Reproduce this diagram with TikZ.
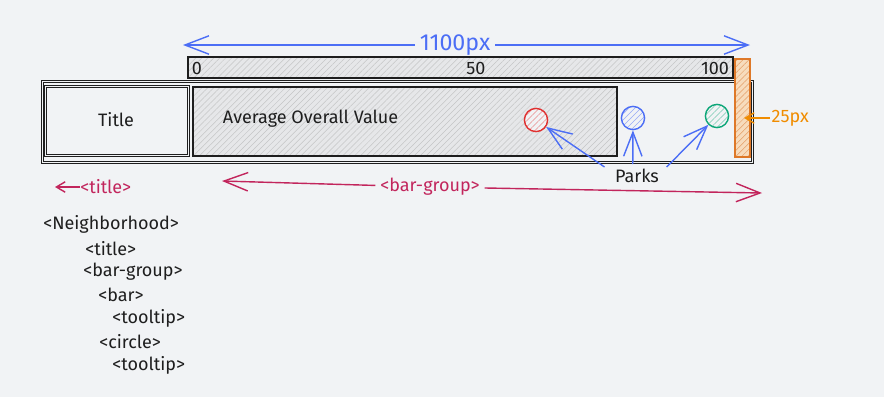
\documentclass[tikz,border=0pt]{standalone}
\usepackage{fontspec}
\setmainfont{Fira Sans}
\usepackage{tikz}
\usetikzlibrary{arrows.meta,patterns.meta,positioning}
\definecolor{paper}{RGB}{241,243,245}
\definecolor{ink}{RGB}{30,30,30}
\definecolor{widthblue}{RGB}{76,110,245}
\definecolor{pxorange}{RGB}{240,140,0}
\definecolor{orangeline}{RGB}{222,120,40}
\definecolor{orangefill}{RGB}{255,192,120}
\definecolor{parkred}{RGB}{224,49,49}
\definecolor{parkblue}{RGB}{76,110,245}
\definecolor{parkgreen}{RGB}{12,166,120}
\definecolor{groupred}{RGB}{194,37,92}

\begin{document}
\begin{tikzpicture}[x=0.025cm,y=-0.025cm,font=\fontsize{12.8}{14}\selectfont,
  barb/.style={-{Straight Barb[length=6mm,width=4.6mm]},line width=1pt},
  smallbarb/.style={-{Straight Barb[length=2.2mm,width=2.6mm]},line width=1pt},
  hatch/.style 2 args={preaction={fill=#1},pattern={Lines[angle=45,distance=3pt,line width=0.35pt]},pattern color=#2},
  sketch/.style={draw=ink,line width=0.8pt},
  thinline/.style={draw=ink,line width=0.5pt},
  park/.style={circle,draw=#1,line width=1pt,minimum size=0.58cm,inner sep=0pt,hatch={paper}{#1!55!paper}}]
\fill[paper] (0,0) rectangle (884,397);
\useasboundingbox (0,0) rectangle (884,397);
% --- the value scale and its width ---
\draw[sketch,hatch={gray!10!paper}{gray!40!paper}] (188,57) rectangle (733,78);
\foreach \v/\x in {0/197,50/476,100/715} \node[ink] (tick\v) at (\x,68) {\v};
\node[widthblue,font=\fontsize{16.5}{18}\selectfont] (widthlbl) at (455,45) {1100px};
\coordinate (wleft) at (183,45);
\coordinate (wright) at (750,45);
\draw[barb,widthblue] (widthlbl) -- (wleft);
\draw[barb,widthblue] (widthlbl) -- (wright);
% --- the neighborhood row ---
\draw[thinline] (41,80) rectangle (753,163);
\draw[thinline] (43,82) rectangle (751,161);
\draw[thinline] (44,85) rectangle (189,156);
\draw[thinline] (46,87) rectangle (187,154);
\node[ink] (titletxt) at (116,120) {Title};
\draw[sketch,hatch={gray!10!paper}{gray!40!paper}] (193,87) rectangle (617,156);
\node[ink,anchor=west] (bartxt) at (218,119) {Average Overall Value};
\draw[draw=orangeline,line width=0.8pt,hatch={orangefill!45!paper}{orangeline!70!paper}] (735,59) rectangle (750,157);
\coordinate (obar) at (744,118);
\node[pxorange,anchor=west,inner xsep=1pt] (pxlbl) at (770,118) {25px};
\draw[smallbarb,pxorange] (pxlbl) -- (obar);
% --- the parks ---
\node[park=parkred] (pred) at (536,120) {};
\node[park=parkblue] (pblue) at (633,118) {};
\node[park=parkgreen] (pgreen) at (717,116) {};
\node[ink] (parks) at (637,176) {Parks};
\draw[barb,parkblue] ([xshift=-4pt,yshift=-2pt]parks.north west) -- (pred);
\draw[barb,parkblue] ([xshift=-3pt]parks.north) -- (pblue);
\draw[barb,parkblue] ([xshift=2pt,yshift=-2pt]parks.north east) -- (pgreen);
% --- the component names ---
\node[groupred] (grouplbl) at (430,187) {<bar-group>};
\coordinate (gleft) at (222,181);
\coordinate (gright) at (762,193);
\draw[barb,groupred] (grouplbl) -- (gleft);
\draw[barb,groupred] (grouplbl) -- (gright);
\node[groupred,anchor=west,inner xsep=0pt] (titlelbl) at (80,187) {<title>};
\coordinate (tleft) at (55,187);
\draw[smallbarb,groupred] (titlelbl) -- (tleft);
% --- the element tree ---
\foreach \t/\x/\y [count=\i] in {<Neighborhood>/43/224,<title>/85/249,<bar-group>/83/272,
                                 <bar>/98/295,<tooltip>/112/318,<circle>/99/342,<tooltip>/112/365}
  \node[ink,anchor=west,inner xsep=0pt] (tree\i) at (\x,\y) {\t};
\end{tikzpicture}
\end{document}
